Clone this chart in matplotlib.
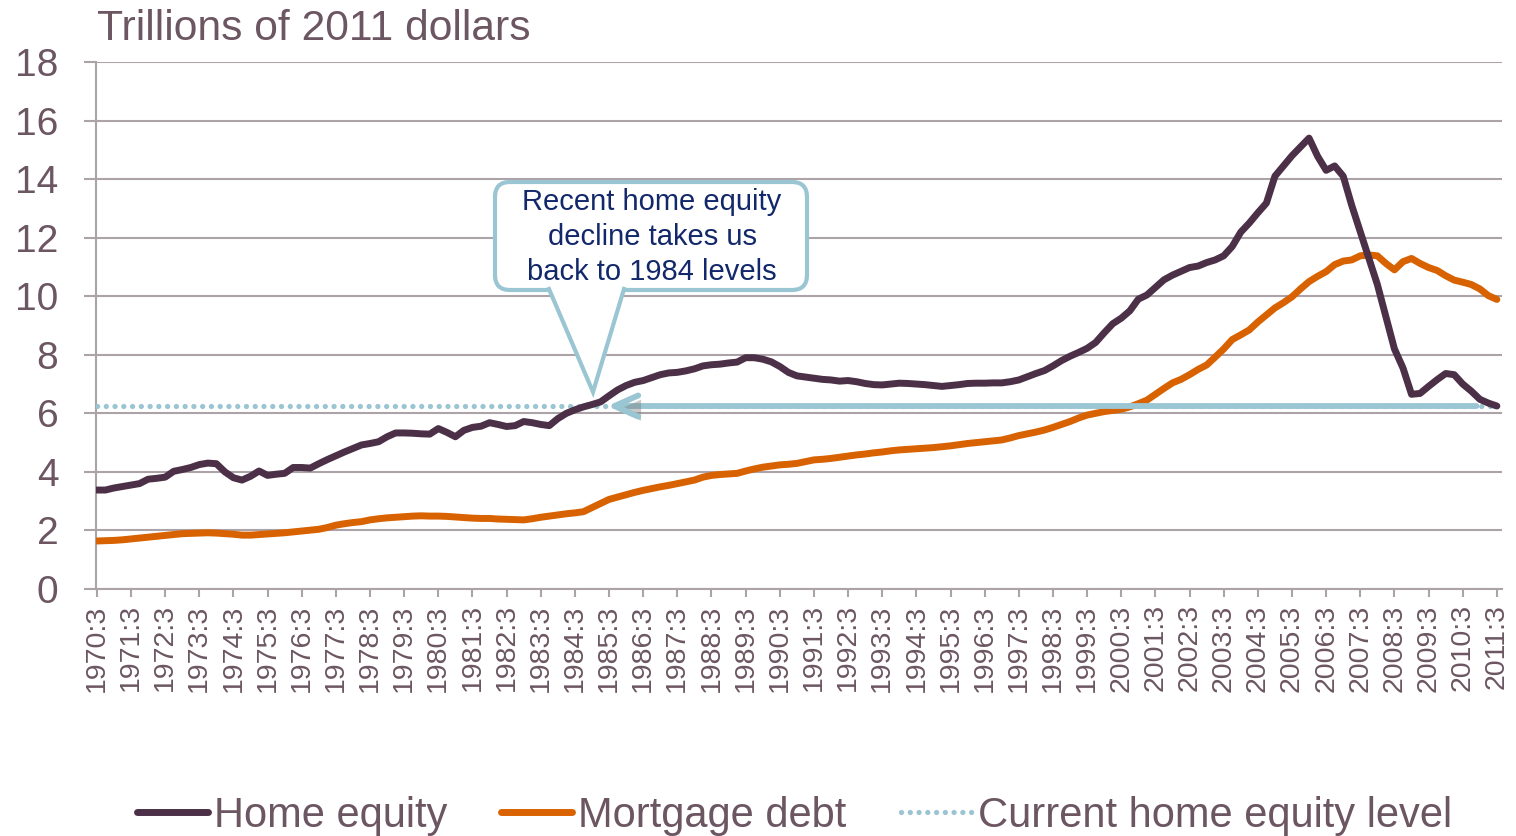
import matplotlib
matplotlib.use("Agg")
import matplotlib.pyplot as plt
import matplotlib.patheffects as pe
import matplotlib.transforms as mtransforms
from matplotlib.patches import FancyBboxPatch, Polygon
from matplotlib.lines import Line2D

plt.rcParams['font.family'] = ['Liberation Sans', 'DejaVu Sans']

# quarterly, 1970:3 .. 2011:3 (trillions of 2011 dollars)
years = list(range(1970, 2012))
tick_labels = [f"{y}:3" for y in years]

home_equity = [
    3.38, 3.38, 3.45, 3.50, 3.55, 3.60, 3.75, 3.78, 3.82, 4.02,
    4.08, 4.15, 4.25, 4.30, 4.28, 4.00, 3.80, 3.72, 3.85, 4.03,
    3.88, 3.92, 3.95, 4.15, 4.15, 4.13, 4.28, 4.42, 4.55, 4.68,
    4.80, 4.92, 4.97, 5.03, 5.20, 5.33, 5.33, 5.32, 5.30, 5.29,
    5.48, 5.35, 5.20, 5.42, 5.52, 5.56, 5.68, 5.62, 5.55, 5.58,
    5.72, 5.68, 5.62, 5.58, 5.82, 6.00, 6.12, 6.22, 6.30, 6.39,
    6.60, 6.80, 6.95, 7.06, 7.12, 7.22, 7.32, 7.38, 7.40, 7.45,
    7.52, 7.62, 7.66, 7.68, 7.72, 7.75, 7.90, 7.90, 7.85, 7.76,
    7.60, 7.40, 7.28, 7.24, 7.20, 7.16, 7.14, 7.10, 7.12, 7.08,
    7.02, 6.98, 6.97, 7.00, 7.03, 7.02, 7.00, 6.98, 6.95, 6.92,
    6.95, 6.98, 7.02, 7.03, 7.03, 7.04, 7.04, 7.08, 7.14, 7.25,
    7.36, 7.46, 7.62, 7.80, 7.95, 8.08, 8.22, 8.42, 8.75, 9.06,
    9.25, 9.50, 9.90, 10.04, 10.30, 10.56, 10.72, 10.85, 10.98, 11.03,
    11.15, 11.24, 11.38, 11.70, 12.19, 12.50, 12.85, 13.18, 14.10, 14.45,
    14.80, 15.10, 15.40, 14.78, 14.30, 14.45, 14.10, 13.10, 12.20, 11.30,
    10.40, 9.30, 8.20, 7.55, 6.65, 6.68, 6.92, 7.15, 7.36, 7.32,
    7.00, 6.76, 6.48, 6.35, 6.25,
]

mortgage_debt = [
    1.64, 1.65, 1.66, 1.68, 1.71, 1.74, 1.77, 1.80, 1.83, 1.86,
    1.89, 1.90, 1.91, 1.92, 1.91, 1.89, 1.87, 1.84, 1.84, 1.86,
    1.88, 1.90, 1.92, 1.95, 1.98, 2.01, 2.04, 2.10, 2.18, 2.23,
    2.27, 2.30, 2.36, 2.40, 2.43, 2.45, 2.47, 2.49, 2.50, 2.49,
    2.49, 2.48, 2.46, 2.44, 2.42, 2.41, 2.41, 2.39, 2.38, 2.37,
    2.36, 2.40, 2.45, 2.49, 2.53, 2.57, 2.60, 2.64, 2.78, 2.92,
    3.06, 3.14, 3.22, 3.30, 3.37, 3.43, 3.49, 3.54, 3.60, 3.66,
    3.72, 3.82, 3.88, 3.91, 3.93, 3.95, 4.03, 4.10, 4.16, 4.20,
    4.24, 4.26, 4.29, 4.35, 4.41, 4.43, 4.46, 4.50, 4.54, 4.58,
    4.61, 4.65, 4.68, 4.72, 4.75, 4.77, 4.79, 4.81, 4.83, 4.86,
    4.89, 4.93, 4.97, 5.00, 5.03, 5.06, 5.09, 5.16, 5.24, 5.30,
    5.36, 5.43, 5.52, 5.62, 5.72, 5.84, 5.94, 6.00, 6.06, 6.10,
    6.14, 6.22, 6.33, 6.45, 6.65, 6.85, 7.04, 7.16, 7.32, 7.50,
    7.65, 7.92, 8.20, 8.52, 8.68, 8.85, 9.12, 9.36, 9.60, 9.78,
    9.98, 10.25, 10.50, 10.68, 10.84, 11.08, 11.20, 11.24, 11.38, 11.41,
    11.38, 11.12, 10.90, 11.18, 11.29, 11.12, 10.98, 10.88, 10.70, 10.55,
    10.48, 10.40, 10.25, 10.02, 9.89,
]

current_level = home_equity[-1]
x = list(range(len(home_equity)))

txt_col = '#6B5662'
grid_col = '#ABA3A7'
equity_col = '#4B3047'
debt_col = '#D96200'
blue = '#9AC5D2'

W, H = 1516, 836
fig = plt.figure(figsize=(W / 100, H / 100), dpi=100)
ax = fig.add_axes([96 / W, 1 - 589 / H, (1502 - 96) / W, (589 - 62) / H])

ax.plot(x, [current_level] * len(x), color=blue, lw=3.8,
        linestyle=(0, (0.01, 1.65)), dash_capstyle='round',
        label='Current home equity level', zorder=3)
ax.plot(x, mortgage_debt, color=debt_col, lw=5, solid_capstyle='round',
        label='Mortgage debt', zorder=4)
ax.plot(x, home_equity, color=equity_col, lw=5, solid_capstyle='round',
        label='Home equity', zorder=6)

ax.set_xlim(-0.1, 164.6)
ax.set_ylim(0, 18)
ax.set_yticks(range(0, 19, 2))
ax.set_xticks(range(0, len(x), 4))
ax.set_xticklabels(tick_labels, rotation=90)
ax.grid(axis='y', color=grid_col, lw=1.5)
ax.set_axisbelow(True)
for s in ['top', 'right']:
    ax.spines[s].set_visible(False)
for s in ['left', 'bottom']:
    ax.spines[s].set_color(grid_col)
    ax.spines[s].set_linewidth(1.5)
ax.tick_params(axis='y', labelsize=28, colors=grid_col, labelcolor=txt_col,
               length=9, width=1.5, pad=18)
ax.tick_params(axis='x', labelsize=20.5, colors=grid_col, labelcolor=txt_col,
               length=6, width=1.5, pad=5)

fig.text(97 / W, 1 - 40 / H, 'Trillions of 2011 dollars', fontsize=30.7,
         color=txt_col, va='baseline', ha='left')

# arrow back to the 1984 level
ann = ax.annotate('', xy=(59.8, current_level), xytext=(161.6, current_level),
                  arrowprops=dict(arrowstyle='->,head_length=0.9,head_width=0.4',
                                  lw=4.2, color=blue, mutation_scale=19,
                                  shrinkA=0, shrinkB=0), zorder=5)
ann.arrow_patch.set_path_effects([
    pe.SimplePatchShadow(offset=(2, -3), shadow_rgbFace='#7a7a7a', alpha=0.4),
    pe.Normal()])

# callout box (pixel coords, top-left origin)
pix = mtransforms.Affine2D().scale(1 / W, -1 / H).translate(0, 1) + fig.transFigure
box = FancyBboxPatch((495, 182), 312, 108,
                     boxstyle='round,pad=0,rounding_size=15',
                     facecolor='white', edgecolor=blue, lw=3,
                     transform=pix, zorder=8, clip_on=False)
fig.add_artist(box)
fig.add_artist(Polygon([(549, 286), (593, 392), (624, 286)], closed=True,
                       facecolor='white', edgecolor='none', transform=pix,
                       zorder=8.5))
fig.add_artist(Line2D([549, 593, 624], [289, 392, 289], color=blue, lw=3,
                      transform=pix, zorder=9, solid_joinstyle='miter'))
fig.text(652 / W, 1 - 237 / H,
         'Recent home equity\ndecline takes us\nback to 1984 levels',
         fontsize=21, color='#12286A', ha='center', va='center',
         linespacing=1.32, zorder=10)

leg = fig.legend(handles=[ax.lines[2], ax.lines[1], ax.lines[0]],
                 loc='center', bbox_to_anchor=(0.524, 0.024), ncol=3,
                 frameon=False, fontsize=30, handlelength=1.7,
                 handletextpad=0.15, columnspacing=1.3, borderpad=0)
for t in leg.get_texts():
    t.set_color(txt_col)

fig.savefig('out.png', dpi=100)
